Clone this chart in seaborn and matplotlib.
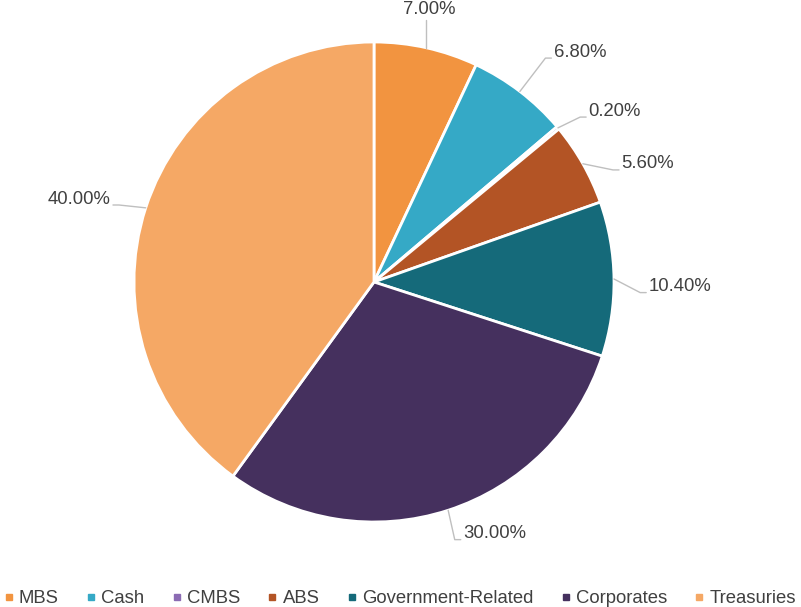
import numpy as np
import matplotlib
matplotlib.use('Agg')
import matplotlib.pyplot as plt
from matplotlib.lines import Line2D
import seaborn as sns

# 数据
categories = ['MBS', 'Cash', 'CMBS', 'ABS', 'Government-Related', 'Corporates', 'Treasuries']
weights = [7.00, 6.80, 0.20, 5.60, 10.40, 30.00, 40.00]
colors = ['#F29440', '#35A9C6', '#8B6BB3', '#B35425', '#156A7A', '#45305E', '#F5A865']

# 标签引线拐点（半径、相对扇区中线的角度偏移）
elbow_r = [1.09, 1.175, 1.10, 1.10, 1.11, 1.125, 1.11]
elbow_shift = [0.0, 0.0, 1.3, 4.4, 3.0, 0.6, -1.2]

sns.set_theme(style='white')
plt.rcParams['font.family'] = ['Liberation Sans', 'DejaVu Sans']
text_color = '#404040'
line_color = '#BFBFBF'

fig = plt.figure(figsize=(8.01, 6.07), dpi=100)
W, H = 801, 607
cx, cy, R = 374, 282, 240
ax = fig.add_axes([(cx - R) / W, (H - cy - R) / H, 2 * R / W, 2 * R / H])

wedges, _ = ax.pie(weights, colors=colors, startangle=90, counterclock=False,
                   radius=1, wedgeprops={'edgecolor': 'white', 'linewidth': 2})
# pie 会自己设置 ±1.25 的范围，这里重设
ax.set_xlim(-1, 1)
ax.set_ylim(-1, 1)
ax.axis('off')

# 标签与引线
total = sum(weights)
start = 0.0
for i, val in enumerate(weights):
    mid = start + val / total * 360 / 2
    start += val / total * 360
    a = np.deg2rad(mid)
    p0 = (np.sin(a), np.cos(a))
    label = f'{val:.2f}%'
    if i == 0:
        # 顶部：竖直引线，文字在上方
        p1 = (p0[0], elbow_r[i])
        ax.plot([p0[0], p1[0]], [p0[1], p1[1]], color=line_color, lw=1, clip_on=False)
        ax.text(p1[0] + 0.01, p1[1] + 0.008, label, ha='center', va='bottom',
                fontsize=13.3, color=text_color)
        continue
    b = np.deg2rad(mid + elbow_shift[i])
    p1 = (elbow_r[i] * np.sin(b), elbow_r[i] * np.cos(b))
    side = 1 if p1[0] >= 0 else -1
    p2 = (p1[0] + side * 0.025, p1[1])
    ax.plot([p0[0], p1[0], p2[0]], [p0[1], p1[1], p2[1]], color=line_color, lw=1, clip_on=False)
    ax.text(p2[0] + side * 0.01, p2[1] + 0.025, label,
            ha='left' if side > 0 else 'right', va='center',
            fontsize=13.3, color=text_color)

handles = [Line2D([0], [0], marker='s', linestyle='', markersize=5,
                  markerfacecolor=c, markeredgecolor=c) for c in colors]
fig.legend(handles, categories, loc='lower center', bbox_to_anchor=(0.5, -0.028),
           ncol=7, frameon=False, fontsize=13.3, handlelength=0.4, handletextpad=0.35,
           columnspacing=1.55, labelcolor=text_color)

fig.savefig('out.png', dpi=100)
